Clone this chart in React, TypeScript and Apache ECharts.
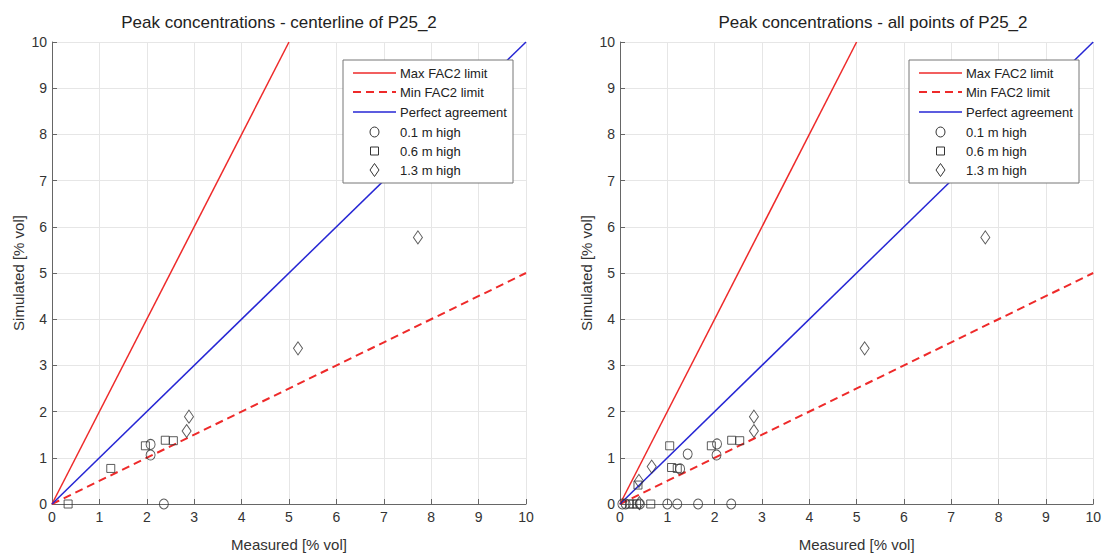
import React, { useEffect, useRef } from "react";
import * as echarts from "echarts";

const titles = ["Peak concentrations - centerline of P25_2", "Peak concentrations - all points of P25_2"];
const xName = "Measured [% vol]";
const yName = "Simulated [% vol]";
const axisTicks = [0, 10, 1]; // min, max, interval

const maxFac2Line = [[0, 0], [5, 10]];
const minFac2Line = [[0, 0], [10, 5]];
const perfectLine = [[0, 0], [10, 10]];

// Left: centerline
const leftCircles = [[2.08, 1.29], [2.08, 1.06], [2.36, 0]];
const leftSquares = [[0.34, 0], [1.24, 0.77], [1.97, 1.26], [2.39, 1.38], [2.56, 1.37]];
const leftDiamonds = [[2.84, 1.58], [2.89, 1.89], [5.19, 3.37], [7.72, 5.77]];

// Right: all points
const rightCircles = [[0.05, 0], [0.12, 0], [0.42, 0], [1.0, 0], [1.21, 0], [1.65, 0], [2.35, 0], [1.43, 1.08], [1.27, 0.76], [2.05, 1.3], [2.04, 1.06]];
const rightSquares = [[0.2, 0], [0.27, 0], [0.35, 0], [0.65, 0], [0.38, 0.41], [1.05, 1.26], [1.09, 0.79], [1.21, 0.77], [1.93, 1.26], [2.36, 1.38], [2.53, 1.37]];
const rightDiamonds = [[0.41, 0.02], [0.4, 0.5], [0.67, 0.81], [2.83, 1.58], [2.83, 1.89], [5.17, 3.37], [7.72, 5.77]];

const legendNames = ["Max FAC2 limit", "Min FAC2 limit", "Perfect agreement", "0.1 m high", "0.6 m high", "1.3 m high"];

const FONT = "'Liberation Sans', Arial, Helvetica, sans-serif";
const RED = "#ee2a2a";
const BLUE = "#2626d4";
const MARK = "#333333";

function legendGraphic(left: number, top: number): any[] {
  const rowY = [13, 32, 52, 72, 91, 110];
  const x0 = 10, x1 = 53, xt = 57, xm = 31.5;
  const X = (v: number) => left + v;
  const Y = (v: number) => top + v;
  const z = 100;
  const els: any[] = [
    { type: "rect", z, shape: { x: X(0), y: Y(0), width: 170, height: 123 }, style: { fill: "#ffffff", stroke: "#777", lineWidth: 1 } },
    { type: "line", z: z + 1, shape: { x1: X(x0), y1: Y(rowY[0]), x2: X(x1), y2: Y(rowY[0]) }, style: { stroke: RED, lineWidth: 1.5 } },
    { type: "line", z: z + 1, shape: { x1: X(x0), y1: Y(rowY[1]), x2: X(x1), y2: Y(rowY[1]) }, style: { stroke: RED, lineWidth: 2, lineDash: [8, 5] } },
    { type: "line", z: z + 1, shape: { x1: X(x0), y1: Y(rowY[2]), x2: X(x1), y2: Y(rowY[2]) }, style: { stroke: BLUE, lineWidth: 1.5 } },
    { type: "ellipse", z: z + 1, shape: { cx: X(xm), cy: Y(rowY[3]), rx: 4.5, ry: 5 }, style: { fill: "none", stroke: MARK, lineWidth: 1 } },
    { type: "rect", z: z + 1, shape: { x: X(xm - 4), y: Y(rowY[4] - 4), width: 8, height: 8 }, style: { fill: "none", stroke: MARK, lineWidth: 1 } },
    { type: "polygon", z: z + 1, shape: { points: [[X(xm), Y(rowY[5] - 6.5)], [X(xm + 4.5), Y(rowY[5])], [X(xm), Y(rowY[5] + 6.5)], [X(xm - 4.5), Y(rowY[5])]] }, style: { fill: "none", stroke: MARK, lineWidth: 1 } },
  ];
  legendNames.forEach((n, i) => {
    els.push({ type: "text", z: z + 1, x: X(xt), y: Y(rowY[i]), style: { text: n, fontFamily: FONT, fontSize: 13, fill: "#222", textAlign: "left", textVerticalAlign: "middle" } });
  });
  return els;
}

export default function App() {
  const ref = useRef<HTMLDivElement>(null);
  useEffect(() => {
    document.body.style.margin = "0";
    const chart = echarts.init(ref.current!, null, { renderer: "svg" });
    const grids = [
      { left: 52, top: 42, width: 474, height: 463 },
      { left: 620, top: 42, width: 474, height: 463 },
    ];
    const mkX = (i: number) => ({
      type: "value", gridIndex: i, min: axisTicks[0], max: axisTicks[1], interval: axisTicks[2],
      name: xName, nameLocation: "middle", nameGap: 33,
      nameTextStyle: { fontFamily: FONT, fontSize: 15, color: "#333" },
      axisLine: { show: true, lineStyle: { color: "#666", width: 1 } },
      axisTick: { show: true, inside: true, length: 5, lineStyle: { color: "#666" } },
      axisLabel: { fontFamily: FONT, fontSize: 14, color: "#333", margin: 6 },
      splitLine: { show: true, lineStyle: { color: "#e6e6e6", width: 1 } },
    });
    const mkY = (i: number) => ({
      type: "value", gridIndex: i, min: axisTicks[0], max: axisTicks[1], interval: axisTicks[2],
      name: yName, nameLocation: "middle", nameGap: 26,
      nameTextStyle: { fontFamily: FONT, fontSize: 15, color: "#333" },
      axisLine: { show: true, lineStyle: { color: "#666", width: 1 } },
      axisTick: { show: true, inside: true, length: 5, lineStyle: { color: "#666" } },
      axisLabel: { fontFamily: FONT, fontSize: 14, color: "#333", margin: 5 },
      splitLine: { show: true, lineStyle: { color: "#e6e6e6", width: 1 } },
    });
    const series: any[] = [];
    const sets = [
      [leftCircles, leftSquares, leftDiamonds],
      [rightCircles, rightSquares, rightDiamonds],
    ];
    [0, 1].forEach((i) => {
      series.push({
        name: legendNames[0], type: "line", xAxisIndex: i, yAxisIndex: i, data: maxFac2Line,
        symbol: "none", lineStyle: { color: RED, width: 1.5 }, itemStyle: { color: RED }, z: 3,
      });
      series.push({
        name: legendNames[1], type: "line", xAxisIndex: i, yAxisIndex: i, data: minFac2Line,
        symbol: "none", lineStyle: { color: RED, width: 2, type: [8, 5] }, itemStyle: { color: RED }, z: 3,
      });
      series.push({
        name: legendNames[2], type: "line", xAxisIndex: i, yAxisIndex: i, data: perfectLine,
        symbol: "none", lineStyle: { color: BLUE, width: 1.5 }, itemStyle: { color: BLUE }, z: 3,
      });
      const [c, s, d] = sets[i];
      const mk = (name: string, data: number[][], symbol: string, size: any) => ({
        name, type: "scatter", xAxisIndex: i, yAxisIndex: i, data, symbol, symbolSize: size,
        itemStyle: { color: "rgba(255,255,255,0)", borderColor: MARK, borderWidth: 1 }, z: 4,
      });
      series.push(mk(legendNames[3], c, "circle", [9, 10]));
      series.push(mk(legendNames[4], s, "rect", [8, 8]));
      series.push(mk(legendNames[5], d, "diamond", [9, 13]));
    });
    chart.setOption({
      animation: false,
      backgroundColor: "#fff",
      grid: grids,
      xAxis: [mkX(0), mkX(1)],
      yAxis: [mkY(0), mkY(1)],
      series,
      graphic: [
        { type: "text", x: 279, y: 22, style: { text: titles[0], fontFamily: FONT, fontSize: 17, fill: "#222", textAlign: "center", textVerticalAlign: "middle" } },
        { type: "text", x: 873, y: 22, style: { text: titles[1], fontFamily: FONT, fontSize: 17, fill: "#222", textAlign: "center", textVerticalAlign: "middle" } },
        ...legendGraphic(343, 60),
        ...legendGraphic(909, 60),
      ],
    });
    return () => chart.dispose();
  }, []);
  return <div ref={ref} style={{ width: 1104, height: 557 }} />;
}
